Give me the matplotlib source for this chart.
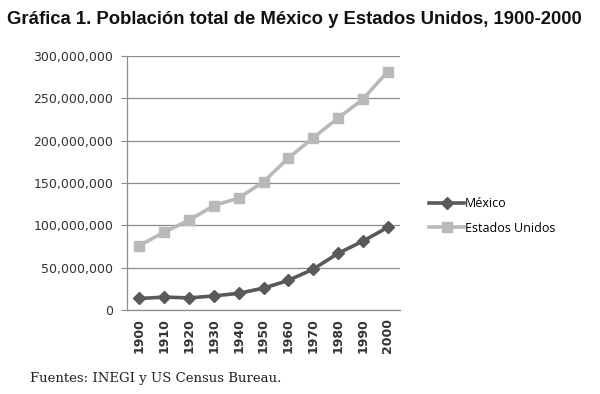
import matplotlib
matplotlib.use("Agg")
import matplotlib.pyplot as plt
from matplotlib.ticker import FuncFormatter

years = ["1900", "1910", "1920", "1930", "1940", "1950", "1960", "1970", "1980", "1990", "2000"]
mexico = [13.6e6, 15.2e6, 14.3e6, 16.6e6, 19.7e6, 25.8e6, 34.9e6, 48.2e6, 66.8e6, 81.2e6, 97.5e6]
usa = [76.0e6, 92.0e6, 106.0e6, 123.2e6, 132.2e6, 151.3e6, 179.3e6, 203.3e6, 226.5e6, 248.7e6, 281.4e6]
yticks = [0, 50e6, 100e6, 150e6, 200e6, 250e6, 300e6]

fig = plt.figure(figsize=(6.0, 3.94), dpi=100)
ax = fig.add_axes([0.2117, 0.2132, 0.455, 0.645])

x = list(range(len(years)))
ax.plot(x, mexico, color="#595959", lw=2.6, marker="D", ms=6.5, label="México", zorder=3)
ax.plot(x, usa, color="#b9b9b9", lw=2.6, marker="s", ms=7.5, label="Estados Unidos", zorder=3)

ax.set_xlim(-0.5, len(years) - 0.5)
ax.set_ylim(0, 300e6)
ax.set_yticks(yticks)
ax.yaxis.set_major_formatter(FuncFormatter(lambda v, p: f"{int(v):,}"))
ax.set_xticks(x)
ax.set_xticklabels(years, rotation=90, fontsize=9, fontweight="bold", color="#333333", family="DejaVu Sans")
for lab in ax.get_yticklabels():
    lab.set_fontsize(9)
    lab.set_color("#333333")
    lab.set_family("DejaVu Sans")

ax.grid(axis="y", color="#8c8c8c", lw=0.9)
ax.set_axisbelow(True)
for s in ["top", "right"]:
    ax.spines[s].set_visible(False)
for s in ["left", "bottom"]:
    ax.spines[s].set_color("#8c8c8c")
    ax.spines[s].set_linewidth(0.9)
ax.tick_params(axis="y", length=4, color="#8c8c8c", pad=6)
ax.tick_params(axis="x", length=0, pad=6)

leg = ax.legend(loc="center left", bbox_to_anchor=(1.065, 0.37), frameon=False,
                prop={"family": "Open Sans", "size": 9}, handlelength=2.8,
                handletextpad=0.05, labelspacing=0.9)

fig.text(0.012, 0.951, "Gráfica 1. Población total de México y Estados Unidos, 1900-2000",
         fontsize=13.3, fontweight="bold", family="Liberation Sans", color="#111111", va="center")
fig.text(0.05, 0.04, "Fuentes: INEGI y US Census Bureau.", fontsize=9.5,
         family="DejaVu Serif", color="#222222", va="center")

fig.savefig("out.png", dpi=100)
